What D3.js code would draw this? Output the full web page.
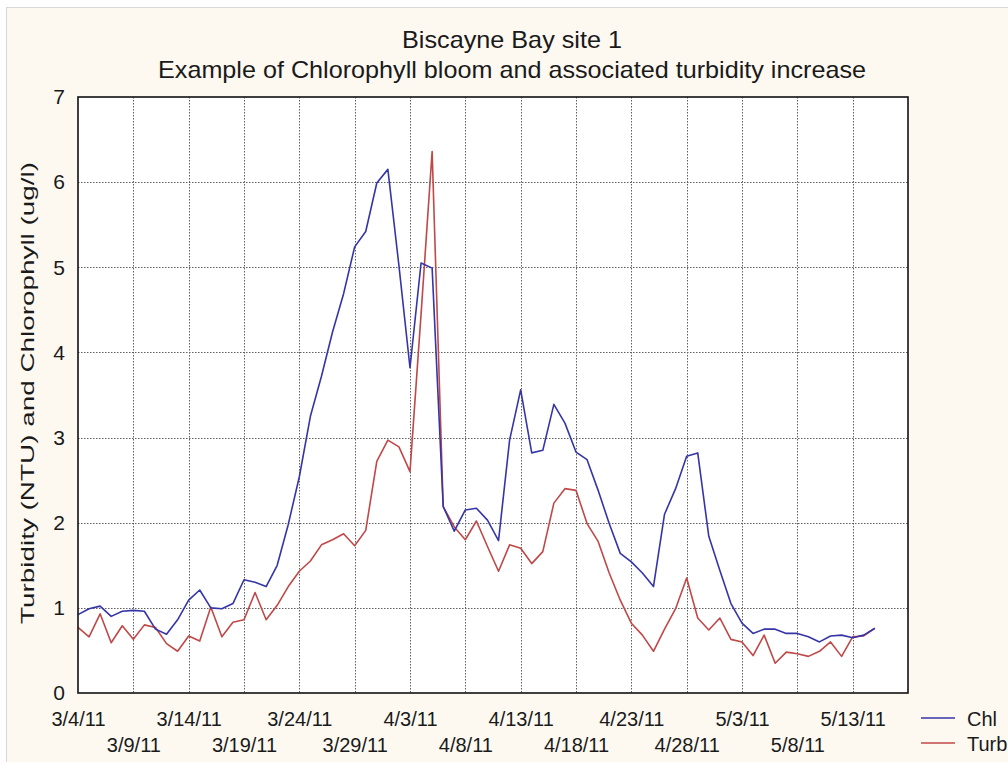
<!DOCTYPE html>
<html>
<head>
<meta charset="utf-8">
<script src="https://cdn.jsdelivr.net/npm/d3@7"></script>
<style>
  html, body { margin: 0; padding: 0; background: #ffffff; }
  svg { display: block; font-family: "Liberation Sans", Arial, sans-serif; }
</style>
</head>
<body>
<svg id="chart" width="1008" height="762"></svg>
<script>
// ---- data ----
const startDate = "2011-03-04";
const chl = [0.92, 0.99, 1.02, 0.90, 0.96, 0.97, 0.96, 0.75, 0.69, 0.86,
             1.09, 1.21, 1.00, 0.99, 1.05, 1.33, 1.30, 1.25, 1.50, 1.98,
             2.54, 3.25, 3.72, 4.24, 4.69, 5.24, 5.42, 5.99, 6.15, 5.02,
             3.82, 5.05, 4.99, 2.19, 1.90, 2.15, 2.17, 2.03, 1.79, 2.97,
             3.56, 2.82, 2.85, 3.39, 3.17, 2.83, 2.74, 2.38, 1.99, 1.64,
             1.54, 1.41, 1.25, 2.10, 2.40, 2.78, 2.82, 1.84, 1.44, 1.05,
             0.82, 0.70, 0.75, 0.75, 0.70, 0.70, 0.66, 0.60, 0.67, 0.68,
             0.65, 0.68, 0.76];
const turb = [0.77, 0.66, 0.93, 0.59, 0.79, 0.63, 0.80, 0.77, 0.58, 0.49,
              0.67, 0.61, 1.01, 0.66, 0.83, 0.86, 1.18, 0.86, 1.03, 1.25,
              1.43, 1.55, 1.74, 1.80, 1.87, 1.73, 1.91, 2.72, 2.97, 2.89,
              2.60, 4.45, 6.36, 2.19, 1.95, 1.80, 2.02, 1.72, 1.43, 1.74,
              1.70, 1.52, 1.66, 2.23, 2.40, 2.38, 1.99, 1.78, 1.41, 1.09,
              0.82, 0.68, 0.49, 0.75, 0.99, 1.35, 0.88, 0.74, 0.88, 0.63,
              0.60, 0.44, 0.68, 0.35, 0.48, 0.46, 0.43, 0.49, 0.60, 0.43,
              0.66, 0.67, 0.76];
const tickLabels = ["3/4/11", "3/9/11", "3/14/11", "3/19/11", "3/24/11", "3/29/11",
                    "4/3/11", "4/8/11", "4/13/11", "4/18/11", "4/23/11", "4/28/11",
                    "5/3/11", "5/8/11", "5/13/11"];
const yTicks = [0, 1, 2, 3, 4, 5, 6, 7];
const seriesNames = ["Chl", "Turb"];
const titleLines = ["Biscayne Bay site 1", "Example of Chlorophyll bloom and associated turbidity increase"];
const yLabel = "Turbidity (NTU) and Chlorophyll (ug/l)";

// ---- layout ----
const svg = d3.select("#chart");
const W = 1008, H = 762;
const m = { left: 78, top: 97, right: 908, bottom: 693 };
const colors = { Chl: "#3535a8", Turb: "#c04848" };

const parse = d3.timeParse("%Y-%m-%d");
const t0 = parse(startDate);
const dayMs = 86400000;
const dates = chl.map((_, i) => new Date(t0.getTime() + i * dayMs));
const tickDates = tickLabels.map((_, i) => new Date(t0.getTime() + i * 5 * dayMs));

const x = d3.scaleTime()
  .domain([t0, new Date(t0.getTime() + 75 * dayMs)])
  .range([m.left, m.right]);
const y = d3.scaleLinear().domain([0, 7]).range([m.bottom, m.top]);

// panel background
svg.append("rect").attr("x", 0).attr("y", 0).attr("width", W).attr("height", H).attr("fill", "#ffffff");
svg.append("rect").attr("x", 6.5).attr("y", 7.5).attr("width", W).attr("height", H)
  .attr("fill", "#fdf9f1").attr("stroke", "#d8d8d8").attr("stroke-width", 1);

// plot area
svg.append("rect").attr("x", m.left).attr("y", m.top)
  .attr("width", m.right - m.left).attr("height", m.bottom - m.top).attr("fill", "#ffffff");

// grid
const grid = svg.append("g").attr("stroke", "#444").attr("stroke-width", 1)
  .attr("stroke-dasharray", "1.5,1.5").attr("opacity", 0.85);
grid.selectAll("line.v").data(tickDates.slice(1)).join("line")
  .attr("x1", d => Math.round(x(d)) + 0.5).attr("x2", d => Math.round(x(d)) + 0.5)
  .attr("y1", m.top).attr("y2", m.bottom);
grid.selectAll("line.h").data(yTicks.slice(1, -1)).join("line")
  .attr("x1", m.left).attr("x2", m.right)
  .attr("y1", d => Math.round(y(d)) + 0.5).attr("y2", d => Math.round(y(d)) + 0.5);

// axes
const xAxis = d3.axisBottom(x).tickValues(tickDates).tickSize(0).tickFormat((d, i) => tickLabels[i]);
const gx = svg.append("g").attr("transform", `translate(0,${m.bottom})`).call(xAxis);
gx.select(".domain").remove();
gx.selectAll("text")
  .attr("font-size", 20).attr("fill", "#1a1a1a")
  .attr("font-family", "'Liberation Sans', Arial, sans-serif")
  .attr("dy", null)
  .attr("y", (d, i) => i % 2 === 0 ? 33 : 59);

const yAxis = d3.axisLeft(y).tickValues(yTicks).tickSize(0).tickPadding(13).tickFormat(d3.format("d"));
const gy = svg.append("g").attr("transform", `translate(${m.left},0)`).call(yAxis);
gy.select(".domain").remove();
gy.selectAll("text").attr("font-size", 21).attr("fill", "#1a1a1a")
  .attr("font-family", "'Liberation Sans', Arial, sans-serif");

// lines
const line = d3.line().x((d, i) => x(dates[i])).y(d => y(d));
svg.append("path").datum(turb).attr("d", line).attr("fill", "none")
  .attr("stroke", colors.Turb).attr("stroke-width", 1.6).attr("stroke-linejoin", "round");
svg.append("path").datum(chl).attr("d", line).attr("fill", "none")
  .attr("stroke", colors.Chl).attr("stroke-width", 1.6).attr("stroke-linejoin", "round");

// frame
svg.append("rect").attr("x", m.left).attr("y", m.top)
  .attr("width", m.right - m.left).attr("height", m.bottom - m.top)
  .attr("fill", "none").attr("stroke", "#111").attr("stroke-width", 1.6);

// titles
svg.append("text").attr("x", 512).attr("y", 48).attr("text-anchor", "middle")
  .attr("font-size", 24).attr("fill", "#1a1a1a")
  .attr("textLength", 220).attr("lengthAdjust", "spacingAndGlyphs").text(titleLines[0]);
svg.append("text").attr("x", 512).attr("y", 78).attr("text-anchor", "middle")
  .attr("font-size", 24).attr("fill", "#1a1a1a")
  .attr("textLength", 708).attr("lengthAdjust", "spacingAndGlyphs").text(titleLines[1]);

// y label
svg.append("text").attr("transform", "translate(34,393) rotate(-90)")
  .attr("text-anchor", "middle").attr("font-size", 19).attr("fill", "#1a1a1a")
  .attr("textLength", 462).attr("lengthAdjust", "spacingAndGlyphs").text(yLabel);

// legend
const lg = svg.append("g");
seriesNames.forEach((name, i) => {
  const yy = 718 + i * 25;
  lg.append("line").attr("x1", 921).attr("x2", 955).attr("y1", yy).attr("y2", yy)
    .attr("stroke", colors[name]).attr("stroke-width", 1.6);
  lg.append("text").attr("x", 967).attr("y", yy + 8).attr("font-size", 20)
    .attr("fill", "#1a1a1a").text(name);
});
</script>
</body>
</html>
